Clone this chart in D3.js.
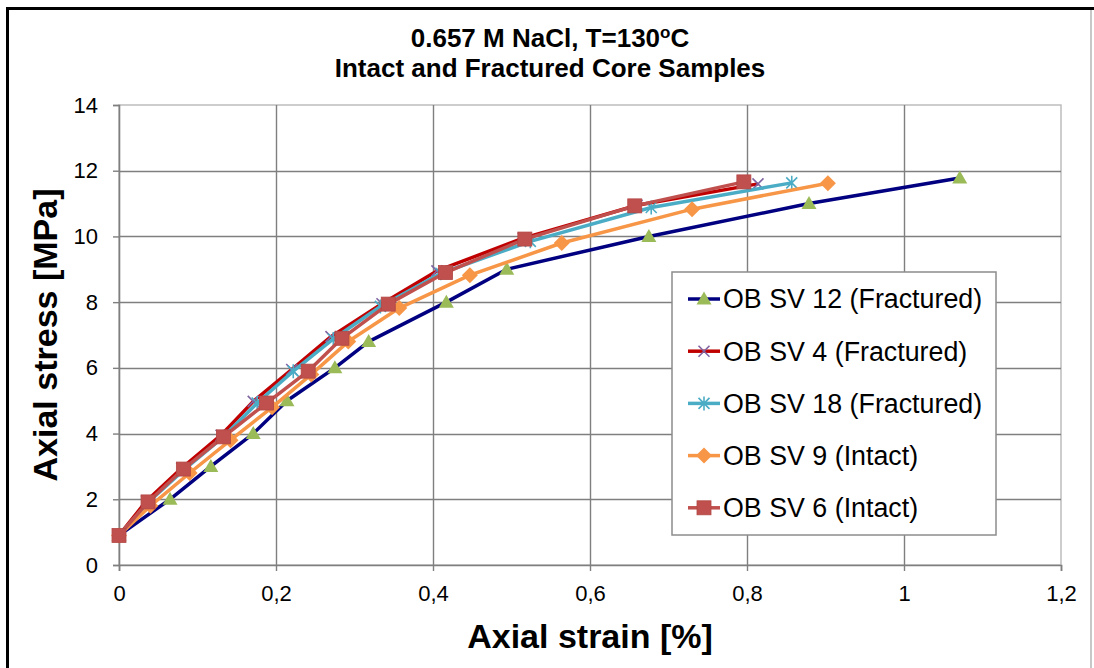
<!DOCTYPE html>
<html>
<head>
<meta charset="utf-8">
<script src="https://cdn.jsdelivr.net/npm/d3@7"></script>
<style>
  body { margin: 0; background: #fff; }
  text { font-family: "Liberation Sans", Arial, sans-serif; }
</style>
</head>
<body>
<div id="graphArea"></div>
<script>
// values
var seriesNames = ["OB SV 12 (Fractured)", "OB SV 4 (Fractured)", "OB SV 18 (Fractured)", "OB SV 9 (Intact)", "OB SV 6 (Intact)"];

var sv12Strain = [0, 0.065, 0.117, 0.171, 0.214, 0.275, 0.318, 0.417, 0.494, 0.675, 0.879, 1.071];
var sv12Stress = [0.9, 2.0, 3.0, 4.0, 5.0, 6.0, 6.8, 8.0, 9.0, 10.0, 11.0, 11.78];

var sv4Strain = [0, 0.035, 0.08, 0.13, 0.171, 0.22, 0.27, 0.335, 0.405, 0.515, 0.66, 0.814];
var sv4Stress = [0.9, 1.95, 2.95, 3.95, 4.98, 5.95, 6.95, 7.95, 8.95, 9.95, 10.95, 11.6];

var sv18Strain = [0, 0.037, 0.083, 0.133, 0.176, 0.222, 0.273, 0.333, 0.41, 0.524, 0.678, 0.857];
var sv18Stress = [0.9, 1.9, 2.9, 3.9, 4.93, 5.9, 6.88, 7.87, 8.88, 9.85, 10.88, 11.63];

var sv9Strain = [0, 0.04, 0.09, 0.142, 0.195, 0.245, 0.292, 0.357, 0.447, 0.564, 0.73, 0.903];
var sv9Stress = [0.9, 1.8, 2.8, 3.8, 4.8, 5.8, 6.8, 7.82, 8.82, 9.8, 10.83, 11.62];

var sv6Strain = [0, 0.037, 0.082, 0.133, 0.188, 0.241, 0.284, 0.343, 0.416, 0.517, 0.657, 0.796];
var sv6Stress = [0.9, 1.92, 2.92, 3.9, 4.93, 5.9, 6.9, 7.94, 8.9, 9.92, 10.93, 11.66];

var xTicks = [0, 0.2, 0.4, 0.6, 0.8, 1, 1.2];
var yTicks = [0, 2, 4, 6, 8, 10, 12, 14];

var lineColors = ["#000080", "#c00000", "#4bacc6", "#f79646", "#c0504d"];
var markerColors = ["#9bbb59", "#8064a2", "#4bacc6", "#f79646", "#c0504d"];
var markerTypes = ["triangle", "x", "star", "diamond", "square"];

var allStrain = [sv12Strain, sv4Strain, sv18Strain, sv9Strain, sv6Strain];
var allStress = [sv12Stress, sv4Stress, sv18Stress, sv9Stress, sv6Stress];

var data = seriesNames.map(function(name, i) {
  return {
    name: name,
    line: lineColors[i],
    mark: markerColors[i],
    type: markerTypes[i],
    points: allStrain[i].map(function(s, j) { return { strain: s, stress: allStress[i][j] }; })
  };
});

var W = 1094, H = 668;
var plotL = 119, plotR = 1061, plotT = 105, plotB = 565;

var svg = d3.select("#graphArea")
  .append("svg")
  .attr("width", W)
  .attr("height", H);

svg.append("rect").attr("width", W).attr("height", H).attr("fill", "#fff");

// outer frame (partly cropped in the original)
svg.append("line").attr("x1", 6).attr("x2", W).attr("y1", 8.5).attr("y2", 8.5)
  .attr("stroke", "#000").attr("stroke-width", 3);
svg.append("line").attr("x1", 7.5).attr("x2", 7.5).attr("y1", 7).attr("y2", H)
  .attr("stroke", "#000").attr("stroke-width", 3);
svg.append("line").attr("x1", 1091).attr("x2", 1091).attr("y1", 10).attr("y2", H)
  .attr("stroke", "#c8c8c8").attr("stroke-width", 2);

var x = d3.scaleLinear().domain([0, 1.2]).range([plotL, plotR]);
var y = d3.scaleLinear().domain([0, 14]).range([plotB, plotT]);

function comma(d) { return String(d).replace(".", ","); }

// plot area border
svg.append("rect")
  .attr("x", plotL).attr("y", plotT)
  .attr("width", plotR - plotL).attr("height", plotB - plotT)
  .attr("fill", "none").attr("stroke", "#bdbdbd").attr("stroke-width", 1.5);

// gridlines
svg.append("g")
  .selectAll("line")
  .data(xTicks.slice(1, -1))
  .enter().append("line")
    .attr("x1", function(d) { return Math.round(x(d)) + 0.5; })
    .attr("x2", function(d) { return Math.round(x(d)) + 0.5; })
    .attr("y1", plotT).attr("y2", plotB)
    .attr("stroke", "#7f7f7f").attr("stroke-width", 1.4);
svg.append("g")
  .selectAll("line")
  .data(yTicks.slice(1, -1))
  .enter().append("line")
    .attr("y1", function(d) { return Math.round(y(d)) + 0.5; })
    .attr("y2", function(d) { return Math.round(y(d)) + 0.5; })
    .attr("x1", plotL).attr("x2", plotR)
    .attr("stroke", "#7f7f7f").attr("stroke-width", 1.4);

// axes
var xAxis = svg.append("g")
  .attr("transform", "translate(0," + plotB + ")")
  .call(d3.axisBottom(x).tickValues(xTicks).tickFormat(comma).tickSize(6).tickPadding(14));
var yAxis = svg.append("g")
  .attr("transform", "translate(" + plotL + ",0)")
  .call(d3.axisLeft(y).tickValues(yTicks).tickSize(6).tickPadding(15));

[xAxis, yAxis].forEach(function(a) {
  a.select(".domain").attr("stroke", "#7f7f7f").attr("stroke-width", 1.6);
  a.selectAll(".tick line").attr("stroke", "#7f7f7f").attr("stroke-width", 1.4);
  a.selectAll("text")
    .attr("fill", "#000")
    .style("font-size", "22px")
    .style("font-family", "'Liberation Sans', Arial, sans-serif");
});
xAxis.selectAll("text").attr("dy", "0.71em");

// titles
var title = svg.append("text")
  .attr("x", 550).attr("y", 47)
  .attr("text-anchor", "middle")
  .style("font-size", "26px").style("font-weight", "bold");
title.append("tspan").text("0.657 M NaCl, T=130");
title.append("tspan").text("o").style("font-size", "17px").attr("dy", -9);
title.append("tspan").text("C").attr("dy", 9);

svg.append("text")
  .attr("x", 550).attr("y", 77)
  .attr("text-anchor", "middle")
  .style("font-size", "26px").style("font-weight", "bold")
  .text("Intact and Fractured Core Samples");

svg.append("text")
  .attr("x", 590).attr("y", 648)
  .attr("text-anchor", "middle")
  .style("font-size", "34px").style("font-weight", "bold")
  .text("Axial strain [%]");

svg.append("text")
  .attr("transform", "translate(57," + ((plotT + plotB) / 2) + ")rotate(-90)")
  .attr("text-anchor", "middle")
  .style("font-size", "34px").style("font-weight", "bold")
  .text("Axial stress [MPa]");

// markers
function drawMarker(g, type, color, cx, cy) {
  if (type == "triangle") {
    g.append("path").attr("d", "M" + cx + "," + (cy - 7.5) + "L" + (cx + 7.5) + "," + (cy + 5.5) + "L" + (cx - 7.5) + "," + (cy + 5.5) + "Z")
      .attr("fill", color);
  } else if (type == "square") {
    g.append("rect").attr("x", cx - 7).attr("y", cy - 7).attr("width", 14).attr("height", 14)
      .attr("fill", color).attr("stroke", "#b24644").attr("stroke-width", 0.8);
  } else if (type == "diamond") {
    g.append("path").attr("d", "M" + cx + "," + (cy - 8) + "L" + (cx + 8) + "," + cy + "L" + cx + "," + (cy + 8) + "L" + (cx - 8) + "," + cy + "Z")
      .attr("fill", color);
  } else if (type == "x") {
    g.append("path").attr("d", "M" + (cx - 5.5) + "," + (cy - 5.5) + "L" + (cx + 5.5) + "," + (cy + 5.5) + "M" + (cx + 5.5) + "," + (cy - 5.5) + "L" + (cx - 5.5) + "," + (cy + 5.5))
      .attr("stroke", color).attr("stroke-width", 1.6);
  } else if (type == "star") {
    g.append("path").attr("d", "M" + (cx - 5.5) + "," + (cy - 5.5) + "L" + (cx + 5.5) + "," + (cy + 5.5) + "M" + (cx + 5.5) + "," + (cy - 5.5) + "L" + (cx - 5.5) + "," + (cy + 5.5) + "M" + cx + "," + (cy - 7) + "L" + cx + "," + (cy + 7))
      .attr("stroke", color).attr("stroke-width", 1.6);
  }
}

var line = d3.line()
  .x(function(d) { return x(d.strain); })
  .y(function(d) { return y(d.stress); });

data.forEach(function(s) {
  var g = svg.append("g");
  g.append("path")
    .datum(s.points)
    .attr("d", line)
    .attr("fill", "none")
    .attr("stroke", s.line)
    .attr("stroke-width", 3.5)
    .attr("stroke-linejoin", "round");
  s.points.forEach(function(p) {
    drawMarker(g, s.type, s.mark, x(p.strain), y(p.stress));
  });
});

// legend
var legend = svg.append("g");
legend.append("rect")
  .attr("x", 672).attr("y", 272)
  .attr("width", 324).attr("height", 263)
  .attr("fill", "#fff").attr("stroke", "#8c8c8c").attr("stroke-width", 1.5);

data.forEach(function(s, i) {
  var ly = 299 + i * 52.2;
  legend.append("line")
    .attr("x1", 688).attr("x2", 720).attr("y1", ly).attr("y2", ly)
    .attr("stroke", s.line).attr("stroke-width", 3.5);
  drawMarker(legend, s.type, s.mark, 704, ly);
  legend.append("text")
    .attr("x", 723).attr("y", ly)
    .attr("dy", "0.35em")
    .style("font-size", "26.8px")
    .text(s.name);
});
</script>
</body>
</html>
